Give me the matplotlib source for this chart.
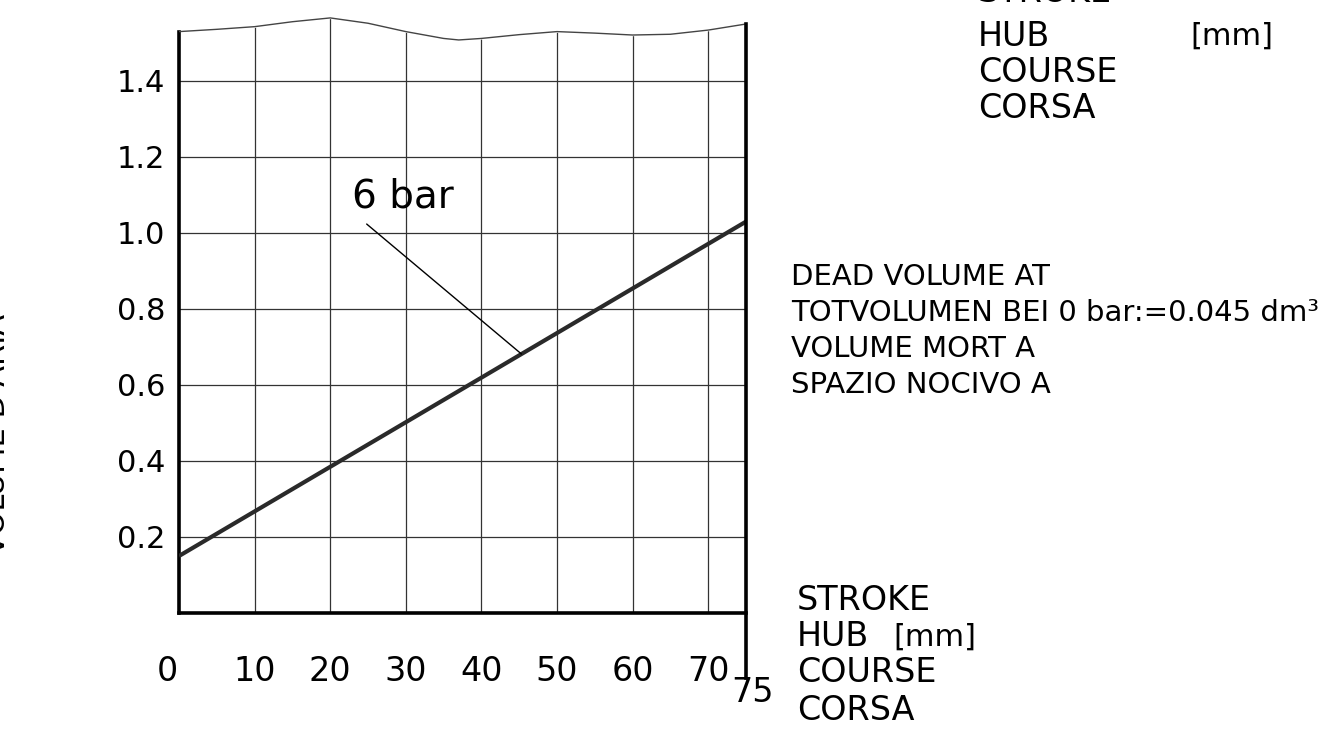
import numpy as np
import matplotlib.pyplot as plt
from matplotlib.transforms import ScaledTranslation

# data
stroke = [0, 75]
volume = [0.15, 1.03]

# break line at the top of the grid
wave_x = [0, 5, 10, 15, 20, 25, 30, 35, 37, 40, 45, 50, 55, 60, 65, 70, 75]
wave_y = [1.530, 1.536, 1.543, 1.556, 1.566, 1.552, 1.530, 1.512, 1.508, 1.512,
          1.522, 1.530, 1.526, 1.521, 1.523, 1.534, 1.550]

x_ticks = [0, 10, 20, 30, 40, 50, 60, 70]
y_ticks = [0.2, 0.4, 0.6, 0.8, 1.0, 1.2, 1.4]

axis_lines = ['STROKE', 'HUB', 'COURSE', 'CORSA']
dead_lines = ['DEAD VOLUME AT', 'TOTVOLUMEN BEI 0 bar:=0.045 dm³',
              'VOLUME MORT A', 'SPAZIO NOCIVO A']

W, H = 1336, 741


def fx(px):
    return px / W


def fy(py):
    return 1 - py / H


fig = plt.figure(figsize=(W / 100, H / 100), dpi=100)
ax = fig.add_axes([179 / W, 1 - 613 / H, 567 / W, 608 / H])
ax.set_xlim(0, 75)
ax.set_ylim(0, 1.6)

# grid
for xv in x_ticks[1:]:
    ax.axvline(xv, color='#333333', lw=0.9, zorder=1)
for yv in y_ticks:
    ax.axhline(yv, color='#333333', lw=0.9, zorder=1)

# cover grid above the break line
ax.fill_between(wave_x, wave_y, 1.6, color='white', zorder=2)
ax.plot(wave_x, wave_y, color='#444444', lw=1.0, zorder=3)

# 6 bar line
ax.plot(stroke, volume, color='#2a2a2a', lw=3.0, zorder=4, solid_capstyle='butt')

x_lab = 45.3
y_lab = np.interp(x_lab, stroke, volume)
ax.annotate('6 bar', xy=(x_lab, y_lab), xytext=(29.6, 1.095),
            ha='center', va='center', fontsize=28, family='DejaVu Sans',
            arrowprops=dict(arrowstyle='-', color='black', lw=1.0,
                            relpos=(0.05, 0.0), shrinkA=6, shrinkB=0),
            zorder=5)

# frame
for s in ['top', 'right']:
    ax.spines[s].set_visible(False)
ax.spines['left'].set_linewidth(2.6)
ax.spines['bottom'].set_linewidth(2.6)
ax.spines['left'].set_bounds(0, wave_y[0])
ax.axvline(75, ymin=-0.17 / 1.6, ymax=wave_y[-1] / 1.6, color='black',
           lw=2.6, clip_on=False, zorder=6)

# ticks
ax.set_yticks(y_ticks)
ax.set_yticklabels(['%.1f' % v for v in y_ticks], fontsize=22)
ax.set_xticks(x_ticks)
ax.set_xticklabels([str(v) for v in x_ticks], fontsize=24)
ax.tick_params(axis='y', length=0, pad=10)
ax.tick_params(axis='x', length=0, pad=30)
zero_lab = ax.get_xticklabels()[0]
zero_lab.set_transform(zero_lab.get_transform() + ScaledTranslation(-0.12, 0, fig.dpi_scale_trans))
ax.text(75.8, -0.21, '75', ha='center', va='center', fontsize=24)

# y axis title, partly cut off at the left edge
fig.text(fx(11), fy(434), "VOLUME D'ARIA", rotation=90, ha='right', va='center',
         fontsize=22)

# stroke labels (bottom and top right)
bottom_y = [600, 637, 673, 710]
top_y = [-7, 36, 72, 108]
for t, yb, yt in zip(axis_lines, bottom_y, top_y):
    fig.text(fx(797), fy(yb), t, ha='left', va='center', fontsize=24)
    fig.text(fx(978), fy(yt), t, ha='left', va='center', fontsize=24)
fig.text(fx(893), fy(637), '[mm]', ha='left', va='center', fontsize=22)
fig.text(fx(1190), fy(36), '[mm]', ha='left', va='center', fontsize=22)

# dead volume note
for i, t in enumerate(dead_lines):
    fig.text(fx(791), fy(277 + 36 * i), t, ha='left', va='center', fontsize=21)

fig.savefig('out.png', dpi=100)
